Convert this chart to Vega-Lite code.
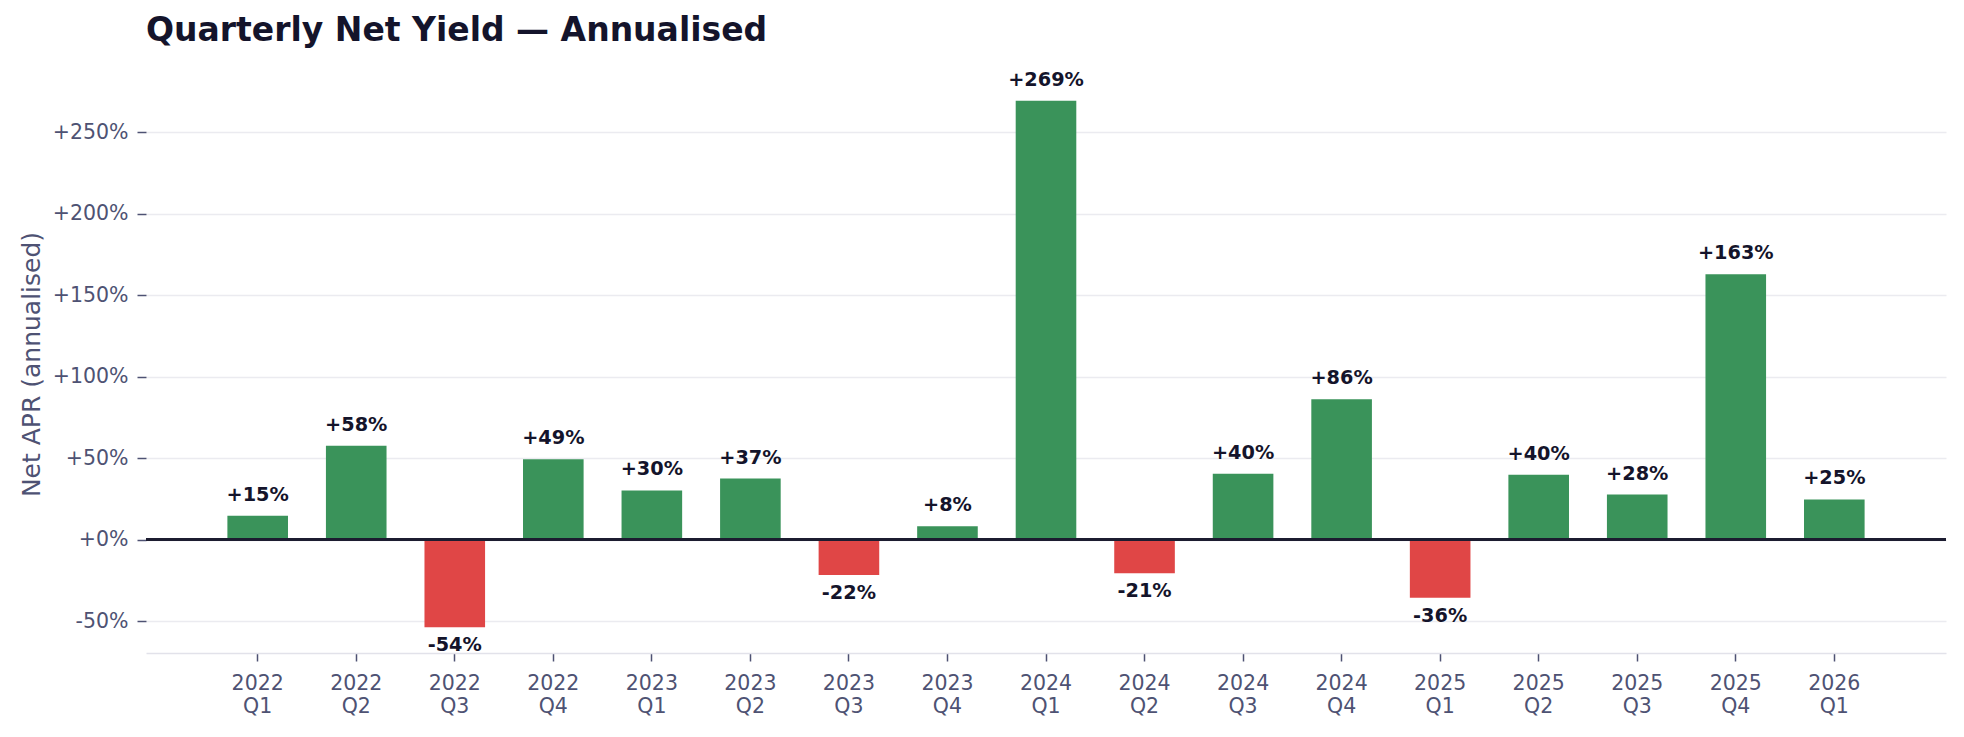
{
  "$schema": "https://vega.github.io/schema/vega-lite/v6.json",
  "width": 1800,
  "height": 578,
  "autosize": {"type": "none"},
  "padding": {"left": 146, "top": 75, "right": 18, "bottom": 84},
  "background": "white",
  "config": {"view": {"stroke": null}},
  "title": {
    "text": "Quarterly Net Yield — Annualised",
    "anchor": "start",
    "frame": "group",
    "font": "DejaVu Sans",
    "fontSize": 33,
    "fontWeight": "bold",
    "color": "#14142b",
    "offset": 23
  },
  "data": {"values": [
    {"quarter": "2022 Q1", "apr": 14.6},
    {"quarter": "2022 Q2", "apr": 57.6},
    {"quarter": "2022 Q3", "apr": -53.8},
    {"quarter": "2022 Q4", "apr": 49.2},
    {"quarter": "2023 Q1", "apr": 30.1},
    {"quarter": "2023 Q2", "apr": 37.4},
    {"quarter": "2023 Q3", "apr": -21.8},
    {"quarter": "2023 Q4", "apr": 8.1},
    {"quarter": "2024 Q1", "apr": 269.2},
    {"quarter": "2024 Q2", "apr": -20.7},
    {"quarter": "2024 Q3", "apr": 40.4},
    {"quarter": "2024 Q4", "apr": 86.0},
    {"quarter": "2025 Q1", "apr": -35.7},
    {"quarter": "2025 Q2", "apr": 39.8},
    {"quarter": "2025 Q3", "apr": 27.6},
    {"quarter": "2025 Q4", "apr": 162.8},
    {"quarter": "2026 Q1", "apr": 24.6}
  ]},
  "transform": [
    {"calculate": "(datum.apr < 0 ? '-' : '+') + format(abs(datum.apr), '.0f') + '%'", "as": "lbl"}
  ],
  "encoding": {
    "x": {
      "field": "quarter",
      "type": "nominal",
      "sort": null,
      "scale": {"paddingInner": 0.385, "paddingOuter": 0.826},
      "axis": {
        "title": null,
        "labelAngle": 0,
        "labelExpr": "split(datum.label, ' ')",
        "labelFont": "DejaVu Sans",
        "labelFontSize": 20.5,
        "labelColor": "#4e5273",
        "labelLineHeight": 23.6,
        "labelPadding": 12,
        "tickColor": "#4e5273",
        "tickSize": 8,
        "tickWidth": 1.5,
        "domainColor": "#e2e2ea",
        "domainWidth": 1.5,
        "grid": false
      }
    },
    "y": {
      "field": "apr",
      "type": "quantitative",
      "scale": {"domain": [-69.6, 285], "nice": false, "zero": false},
      "axis": {
        "title": "Net APR (annualised)",
        "titleFont": "DejaVu Sans",
        "titleFontSize": 25,
        "titleFontWeight": "normal",
        "titleColor": "#4e5273",
        "titlePadding": 8,
        "values": [-50, 0, 50, 100, 150, 200, 250],
        "labelExpr": "(datum.value < 0 ? '-' : '+') + format(abs(datum.value), 'd') + '%'",
        "labelFont": "DejaVu Sans",
        "labelFontSize": 20.5,
        "labelColor": "#4e5273",
        "labelPadding": 9,
        "tickColor": "#4e5273",
        "tickSize": 9,
        "tickWidth": 1.5,
        "domain": false,
        "grid": true,
        "gridColor": "#ebebf0",
        "gridWidth": 1.3
      }
    }
  },
  "layer": [
    {
      "mark": {"type": "bar"},
      "encoding": {
        "color": {
          "condition": {"test": "datum.apr < 0", "value": "#e04646"},
          "value": "#3a935a"
        }
      }
    },
    {
      "mark": {"type": "rule", "color": "#1c1c30", "strokeWidth": 2.5},
      "encoding": {"y": {"datum": 0}, "x": null}
    },
    {
      "transform": [{"filter": "datum.apr >= 0"}],
      "mark": {"type": "text", "font": "DejaVu Sans", "fontSize": 19.3, "fontWeight": "bold", "color": "#14142b", "baseline": "alphabetic", "dy": -15},
      "encoding": {"text": {"field": "lbl"}}
    },
    {
      "transform": [{"filter": "datum.apr < 0"}],
      "mark": {"type": "text", "font": "DejaVu Sans", "fontSize": 19.3, "fontWeight": "bold", "color": "#14142b", "baseline": "alphabetic", "dy": 24},
      "encoding": {"text": {"field": "lbl"}}
    }
  ]
}
